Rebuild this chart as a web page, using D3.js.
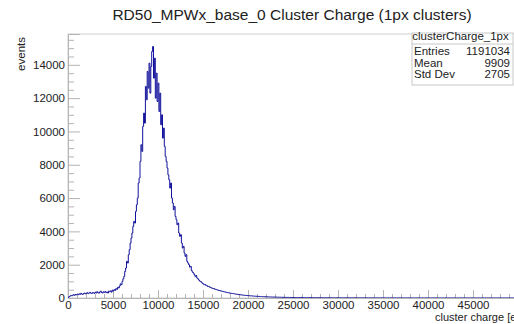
<!DOCTYPE html>
<html>
<head>
<meta charset="utf-8">
<script src="https://cdn.jsdelivr.net/npm/d3@7"></script>
<style>
  body { margin: 0; background: #fff; }
  svg { display: block; font-family: "Liberation Sans", Arial, Helvetica, sans-serif; }
</style>
</head>
<body>
<svg id="chart" width="514" height="324"></svg>
<script>
const title = "RD50_MPWx_base_0 Cluster Charge (1px clusters)";
const xTitle = "cluster charge [e-]";
const yTitle = "events";

// histogram: 500 bins of 100 e from 0 to 50000, one row per 1000 e
const binStart = 0;
const binWidth = 100;
const counts = [
  40, 80, 120, 150, 130, 170, 200, 160, 210, 190,
  230, 200, 250, 220, 280, 240, 210, 270, 300, 250,
  280, 320, 260, 300, 340, 290, 270, 330, 310, 280,
  350, 300, 380, 320, 290, 360, 410, 330, 300, 370,
  340, 390, 320, 360, 300, 410, 380, 430, 350, 470,
  420, 500, 460, 560, 520, 640, 600, 720, 850, 800,
  1000, 1150, 1300, 1600, 1800, 2200, 2100, 2600, 2900, 3300,
  3600, 3900, 4300, 4600, 4500, 5200, 5600, 6000, 6900, 7200,
  8200, 9200, 8800, 10300, 11100, 10500, 12700, 11900, 13600, 12600,
  14100, 12300, 13900, 14800, 15100, 13200, 14400, 12000, 13500, 11800,
  12900, 11200, 12300, 10400, 11000, 9600, 10200, 9100, 8500, 8200,
  7800, 7400, 7100, 6600, 6900, 6000, 5700, 5300, 5500, 4900,
  4700, 4400, 4500, 3900, 3700, 3800, 3300, 3000, 3100, 2700,
  2500, 2600, 2200, 2100, 2000, 1850, 1900, 1650, 1550, 1500,
  1400, 1300, 1350, 1200, 1150, 1080, 1020, 990, 940, 880,
  850, 800, 810, 750, 740, 690, 700, 650, 640, 600,
  590, 560, 565, 520, 515, 490, 485, 460, 450, 425,
  420, 400, 395, 370, 365, 345, 335, 320, 315, 300,
  290, 280, 272, 260, 258, 243, 238, 225, 222, 208,
  200, 196, 185, 182, 174, 166, 160, 156, 150, 146,
  140, 138, 132, 128, 122, 120, 115, 110, 108, 104,
  100, 97, 94, 90, 88, 85, 82, 80, 77, 75,
  72, 70, 68, 66, 64, 62, 60, 58, 56, 55,
  53, 51, 50, 48, 47, 45, 44, 42, 41, 40,
  39, 38, 37, 36, 35, 34, 33, 32, 31, 30,
  30, 29, 29, 28, 28, 27, 27, 26, 26, 25,
  25, 24, 24, 23, 23, 22, 22, 22, 21, 21,
  20, 20, 20, 19, 19, 19, 18, 18, 18, 17,
  17, 17, 16, 16, 16, 16, 15, 15, 15, 15,
  14, 14, 14, 14, 13, 13, 13, 13, 13, 12,
  12, 12, 12, 12, 11, 11, 11, 11, 11, 11,
  10, 10, 10, 10, 10, 10, 9, 9, 9, 9,
  9, 9, 9, 9, 8, 8, 8, 8, 8, 8,
  8, 8, 7, 7, 7, 7, 7, 7, 7, 7,
  7, 6, 6, 6, 6, 6, 6, 6, 6, 6,
  6, 6, 5, 5, 5, 5, 5, 5, 5, 5,
  5, 5, 5, 5, 5, 4, 4, 4, 4, 4,
  4, 4, 4, 4, 4, 4, 4, 4, 4, 4,
  4, 3, 3, 3, 3, 3, 3, 3, 3, 3,
  3, 3, 3, 3, 3, 3, 3, 3, 3, 3,
  3, 3, 3, 3, 2, 3, 2, 3, 2, 2,
  2, 3, 2, 2, 2, 2, 2, 2, 2, 2,
  2, 2, 2, 2, 2, 2, 2, 2, 2, 2,
  2, 2, 2, 1, 2, 2, 1, 2, 1, 2,
  1, 2, 1, 1, 2, 1, 1, 1, 2, 1,
  1, 1, 1, 1, 1, 1, 2, 1, 1, 1,
  1, 1, 1, 1, 1, 1, 1, 1, 1, 1,
  1, 1, 1, 1, 1, 0, 1, 1, 1, 1,
  1, 1, 0, 1, 1, 1, 0, 1, 1, 1,
  0, 1, 1, 0, 1, 1, 1, 0, 1, 1
];

const xMajor = [0, 5000, 10000, 15000, 20000, 25000, 30000, 35000, 40000, 45000];
const yMajor = [0, 2000, 4000, 6000, 8000, 10000, 12000, 14000];
const xRange = [0, 50000];
const yRange = [0, 15850];

const statsName = "clusterCharge_1px";
const statsLabels = ["Entries", "Mean", "Std Dev"];
const statsValues = ["1191034", "9909", "2705"];

const frame = { left: 68, right: 518, top: 34, bottom: 298 };
const lineColor = "#12129c";
const axisColor = "#b4b4b4";
const textColor = "#222";
const fontFamily = "Liberation Sans, Arial, sans-serif";

const svg = d3.select("#chart");

const x = d3.scaleLinear().domain(xRange).range([frame.left, frame.right]);
const y = d3.scaleLinear().domain(yRange).range([frame.bottom, frame.top]);

// frame
svg.append("rect")
  .attr("x", frame.left).attr("y", frame.top)
  .attr("width", frame.right - frame.left)
  .attr("height", frame.bottom - frame.top)
  .attr("fill", "none")
  .attr("stroke", "#d0d0d0");

// minor ticks
const yMinor = d3.range(yRange[0], yRange[1], 500).filter(v => v % 2000 !== 0);
const xMinor = d3.range(xRange[0], xRange[1] + 1, 1000).filter(v => v % 5000 !== 0);

svg.append("g")
  .attr("transform", `translate(${frame.left},0)`)
  .call(d3.axisLeft(y).tickValues(yMinor).tickSize(-6).tickFormat(""))
  .call(g => g.select(".domain").remove())
  .call(g => g.selectAll("line").attr("stroke", axisColor));

svg.append("g")
  .attr("transform", `translate(0,${frame.bottom})`)
  .call(d3.axisBottom(x).tickValues(xMinor).tickSize(-4).tickFormat(""))
  .call(g => g.select(".domain").remove())
  .call(g => g.selectAll("line").attr("stroke", axisColor));

// major ticks + labels
svg.append("g")
  .attr("transform", `translate(${frame.left},0)`)
  .call(d3.axisLeft(y).tickValues(yMajor).tickSize(-12).tickPadding(3).tickFormat(d3.format("d")))
  .call(g => g.select(".domain").attr("stroke", axisColor))
  .call(g => g.selectAll("line").attr("stroke", axisColor))
  .call(g => g.selectAll("text")
    .attr("fill", textColor)
    .attr("font-size", 11.5)
    .attr("font-family", fontFamily));

svg.append("g")
  .attr("transform", `translate(0,${frame.bottom})`)
  .call(d3.axisBottom(x).tickValues(xMajor).tickSize(-8).tickPadding(3).tickFormat(d3.format("d")))
  .call(g => g.select(".domain").attr("stroke", axisColor))
  .call(g => g.selectAll("line").attr("stroke", axisColor))
  .call(g => g.selectAll("text")
    .attr("fill", textColor)
    .attr("font-size", 11.5)
    .attr("font-family", fontFamily));

// histogram as a step line
const steps = counts.map((c, i) => ({ x: binStart + i * binWidth, y: c }));
steps.push({ x: binStart + counts.length * binWidth, y: counts[counts.length - 1] });

svg.append("clipPath").attr("id", "plot-clip")
  .append("rect")
  .attr("x", frame.left).attr("y", frame.top)
  .attr("width", frame.right - frame.left)
  .attr("height", frame.bottom - frame.top);

svg.append("path")
  .datum(steps)
  .attr("clip-path", "url(#plot-clip)")
  .attr("fill", "none")
  .attr("stroke", lineColor)
  .attr("stroke-width", 1)
  .attr("d", d3.line().x(d => x(d.x)).y(d => y(d.y)).curve(d3.curveStepAfter));

// titles
svg.append("text")
  .attr("x", 292).attr("y", 20)
  .attr("text-anchor", "middle")
  .attr("font-size", 15.5)
  .attr("fill", textColor)
  .text(title);

svg.append("text")
  .attr("transform", `translate(25,${frame.top + 3}) rotate(-90)`)
  .attr("text-anchor", "end")
  .attr("font-size", 11.5)
  .attr("fill", textColor)
  .text(yTitle);

svg.append("text")
  .attr("x", 435).attr("y", 321)
  .attr("font-size", 11)
  .attr("fill", textColor)
  .text(xTitle);

// stats box
const box = { x: 412, y: 33, w: 101, h: 52, head: 11 };
const stats = svg.append("g");
stats.append("rect")
  .attr("x", box.x).attr("y", box.y)
  .attr("width", box.w).attr("height", box.h)
  .attr("fill", "#fff")
  .attr("stroke", "#c8c8c8");
stats.append("line")
  .attr("x1", box.x).attr("x2", box.x + box.w)
  .attr("y1", box.y + box.head).attr("y2", box.y + box.head)
  .attr("stroke", "#c8c8c8");
stats.append("text")
  .attr("x", box.x + box.w / 2 - 2).attr("y", box.y + 6.5)
  .attr("text-anchor", "middle")
  .attr("font-size", 11.5)
  .attr("fill", textColor)
  .text(statsName);
statsLabels.forEach((label, i) => {
  const ty = box.y + 22 + i * 11.7;
  stats.append("text")
    .attr("x", box.x + 2).attr("y", ty)
    .attr("font-size", 11.5)
    .attr("fill", textColor)
    .text(label);
  stats.append("text")
    .attr("x", box.x + box.w - 3).attr("y", ty)
    .attr("text-anchor", "end")
    .attr("font-size", 11.5)
    .attr("fill", textColor)
    .text(statsValues[i]);
});
</script>
</body>
</html>
